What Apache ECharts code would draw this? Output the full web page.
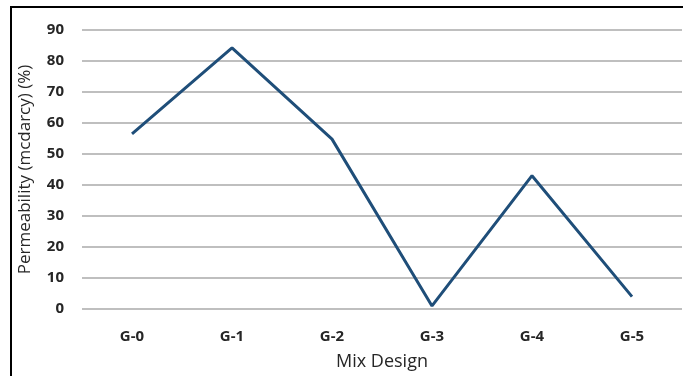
<!DOCTYPE html>
<html>
<head>
<meta charset="utf-8">
<script src="https://cdn.jsdelivr.net/npm/echarts@6/dist/echarts.min.js"></script>
<style>
  html, body { margin: 0; padding: 0; background: #fff; }
  #chart { width: 683px; height: 376px; }
</style>
</head>
<body>
<div id="chart"></div>
<script>
const categories = ['G-0', 'G-1', 'G-2', 'G-3', 'G-4', 'G-5'];
const permeability = [56.5, 84.2, 54.8, 1, 43, 4];
const yTicks = { min: 0, max: 90, interval: 10 };

const myChart = echarts.init(document.getElementById('chart'));

const option = {
  animation: false,
  backgroundColor: '#fff',
  grid: {
    left: 82,
    right: 1,
    top: 30,
    bottom: 67
  },
  graphic: [{
    type: 'rect',
    shape: { x: 11, y: 7, width: 700, height: 400 },
    style: { fill: 'none', stroke: '#000', lineWidth: 2 },
    silent: true
  }],
  xAxis: {
    type: 'category',
    data: categories,
    boundaryGap: true,
    axisLine: { show: false },
    axisTick: { show: false },
    axisLabel: {
      margin: 20,
      color: '#262626',
      fontFamily: 'Open Sans',
      fontWeight: 'bold',
      fontSize: 15
    },
    name: 'Mix Design',
    nameLocation: 'middle',
    nameGap: 44,
    nameTextStyle: {
      color: '#262626',
      fontFamily: 'Open Sans',
      fontSize: 18
    }
  },
  yAxis: {
    type: 'value',
    min: yTicks.min,
    max: yTicks.max,
    interval: yTicks.interval,
    axisLine: { show: false },
    axisTick: { show: false },
    splitLine: { lineStyle: { color: '#bfbfbf', width: 2 } },
    axisLabel: {
      margin: 18,
      color: '#262626',
      fontFamily: 'Open Sans',
      fontWeight: 'bold',
      fontSize: 15
    },
    name: 'Permeability (mcdarcy) (%)',
    nameLocation: 'middle',
    nameGap: 48,
    nameTextStyle: {
      color: '#262626',
      fontFamily: 'Open Sans',
      fontSize: 17
    }
  },
  series: [{
    type: 'line',
    data: permeability,
    symbol: 'none',
    lineStyle: { color: '#1f4e79', width: 3 }
  }]
};

myChart.setOption(option);
</script>
</body>
</html>
